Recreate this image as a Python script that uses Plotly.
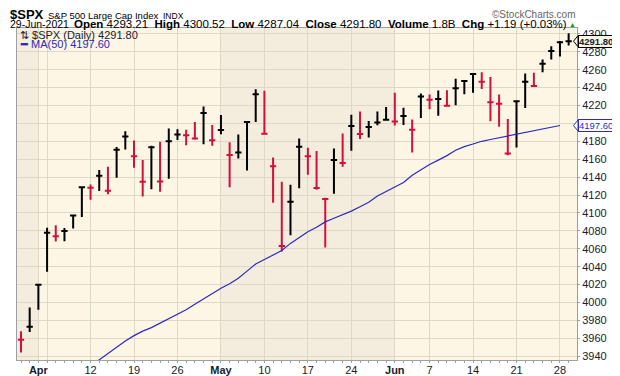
import plotly.graph_objects as go

# ---------------- data ----------------
dates = ["2021-03-30", "2021-03-31", "2021-04-01", "2021-04-05", "2021-04-06", "2021-04-07",
         "2021-04-08", "2021-04-09", "2021-04-12", "2021-04-13", "2021-04-14", "2021-04-15",
         "2021-04-16", "2021-04-19", "2021-04-20", "2021-04-21", "2021-04-22", "2021-04-23",
         "2021-04-26", "2021-04-27", "2021-04-28", "2021-04-29", "2021-04-30", "2021-05-03",
         "2021-05-04", "2021-05-05", "2021-05-06", "2021-05-07", "2021-05-10", "2021-05-11",
         "2021-05-12", "2021-05-13", "2021-05-14", "2021-05-17", "2021-05-18", "2021-05-19",
         "2021-05-20", "2021-05-21", "2021-05-24", "2021-05-25", "2021-05-26", "2021-05-27",
         "2021-05-28", "2021-06-01", "2021-06-02", "2021-06-03", "2021-06-04", "2021-06-07",
         "2021-06-08", "2021-06-09", "2021-06-10", "2021-06-11", "2021-06-14", "2021-06-15",
         "2021-06-16", "2021-06-17", "2021-06-18", "2021-06-21", "2021-06-22", "2021-06-23",
         "2021-06-24", "2021-06-25", "2021-06-28", "2021-06-29"]

highs = [3968.0, 3994.4, 4020.6, 4083.4, 4086.2, 4083.1, 4098.2, 4129.5, 4131.8, 4148.0,
         4151.7, 4173.5, 4191.3, 4180.8, 4159.2, 4175.0, 4179.6, 4194.2, 4193.5, 4192.8,
         4201.5, 4218.8, 4198.1, 4209.4, 4179.0, 4187.7, 4202.7, 4238.0, 4236.4, 4162.0,
         4134.7, 4131.6, 4183.1, 4172.8, 4169.2, 4116.9, 4172.0, 4188.7, 4209.5, 4213.4,
         4202.6, 4213.4, 4218.4, 4234.1, 4217.4, 4204.4, 4233.5, 4232.3, 4236.7, 4237.1,
         4249.7, 4248.4, 4255.6, 4257.2, 4251.9, 4232.3, 4204.8, 4224.8, 4255.8, 4256.6,
         4271.3, 4286.1, 4292.1, 4300.52]

lows = [3944.3, 3967.0, 3992.0, 4034.4, 4068.1, 4068.3, 4082.5, 4095.5, 4114.8, 4124.4,
        4120.8, 4139.4, 4170.8, 4150.5, 4118.4, 4126.4, 4123.7, 4138.2, 4181.5, 4175.5,
        4181.8, 4176.8, 4174.9, 4188.0, 4128.6, 4160.9, 4147.3, 4201.6, 4188.1, 4111.5,
        4056.9, 4075.0, 4127.5, 4142.7, 4126.0, 4061.4, 4121.5, 4151.7, 4169.5, 4182.5,
        4184.1, 4197.8, 4203.6, 4197.6, 4198.3, 4167.6, 4206.0, 4215.7, 4208.4, 4218.7,
        4220.3, 4232.5, 4234.1, 4238.4, 4202.5, 4196.1, 4164.4, 4173.1, 4217.3, 4241.4,
        4257.0, 4271.2, 4274.7, 4287.04]

closes = [3958.55, 3972.89, 4019.87, 4077.91, 4073.94, 4079.95, 4097.17, 4128.80, 4127.99, 4141.59,
          4124.66, 4170.42, 4185.47, 4163.26, 4134.94, 4173.42, 4134.98, 4180.17, 4187.62, 4186.72,
          4183.18, 4211.47, 4181.17, 4192.66, 4164.66, 4167.59, 4201.62, 4232.60, 4188.43, 4152.10,
          4063.04, 4112.50, 4173.85, 4163.29, 4127.83, 4115.68, 4159.12, 4155.86, 4197.05, 4188.13,
          4195.99, 4200.88, 4204.11, 4202.04, 4208.12, 4192.85, 4229.89, 4226.52, 4227.26, 4219.55,
          4239.18, 4247.44, 4255.15, 4246.59, 4223.70, 4221.86, 4166.45, 4224.79, 4246.44, 4241.84,
          4266.49, 4280.70, 4290.61, 4291.80]

prev_close = 3971.09  # close of the session before the first bar

ma_start_date = "2021-04-12"
ma50 = [3929, 3936, 3944, 3951, 3957, 3963, 3968, 3972, 3977, 3982,
        3987, 3992, 3998, 4004, 4010, 4016, 4021, 4027, 4035, 4043,
        4048, 4053, 4058, 4066, 4073, 4079, 4084, 4090, 4094, 4098,
        4102, 4107, 4112, 4119, 4124, 4129, 4134, 4142, 4148, 4154,
        4159, 4164, 4170, 4174, 4177, 4180, 4182, 4184, 4186, 4188,
        4190, 4192, 4194, 4196, 4197.60]

tick_dates = ["2021-04-01", "2021-04-05", "2021-04-12", "2021-04-19", "2021-04-26", "2021-05-03",
              "2021-05-10", "2021-05-17", "2021-05-24", "2021-06-01", "2021-06-07", "2021-06-14",
              "2021-06-21", "2021-06-28"]
tick_labels = ["<b>Apr</b>", "", "12", "19", "26", "<b>May</b>", "10", "17", "24", "<b>Jun</b>",
               "7", "14", "21", "28"]

shaded_periods = [(None, "2021-04-01"), ("2021-05-03", "2021-06-01")]

y_ticks_from, y_step = 3940, 20

# ---------------- styling ----------------
FONT = "Liberation Sans, Arial, sans-serif"
UP_COLOR = "#000000"
DOWN_COLOR = "#d2103c"
MA_COLOR = "#2b2bbd"
BG_LIGHT = "#fdf6e5"
BG_SHADE = "#f4ecdc"
GRID = "#e0d8c6"
AXIS = "#9aa0a6"
TEXT = "#14222e"

# The page places the figure 8px in from the window's corner, so the figure is
# made 8px smaller and everything is laid out in window pixels minus that offset.
OFF = 8
FIG_W, FIG_H = 620 - OFF, 376 - OFF
PL, PT, PW, PH = 17, 28, 560, 332      # plot box in window pixels

idx = {d: i for i, d in enumerate(dates)}
xs = list(range(len(dates)))
x_range = [-0.46, len(dates) - 1 + 0.96]
y_range = [3935.8, 4306.5]
px_per_unit = PH / (y_range[1] - y_range[0])

up_i, dn_i = [], []
for i, c in enumerate(closes):
    p = prev_close if i == 0 else closes[i - 1]
    (up_i if c >= p else dn_i).append(i)

fig = go.Figure()
for group, col in ((up_i, UP_COLOR), (dn_i, DOWN_COLOR)):
    fig.add_trace(go.Ohlc(
        x=[xs[i] for i in group],
        open=[closes[i] for i in group],
        high=[highs[i] for i in group],
        low=[lows[i] for i in group],
        close=[closes[i] for i in group],
        increasing=dict(line=dict(color=col, width=2)),
        decreasing=dict(line=dict(color=col, width=2)),
        tickwidth=0.36, hoverinfo="skip", showlegend=False))

ma_x = xs[idx[ma_start_date]:idx[ma_start_date] + len(ma50)]
fig.add_trace(go.Scatter(x=ma_x, y=ma50, mode="lines",
                         line=dict(color=MA_COLOR, width=1.2),
                         hoverinfo="skip", showlegend=False))

shapes = []
for a, b in shaded_periods:
    x0 = x_range[0] if a is None else idx[a]
    x1 = x_range[1] if b is None else idx[b]
    shapes.append(dict(type="rect", xref="x", yref="paper", x0=x0, x1=x1, y0=0, y1=1,
                       fillcolor=BG_SHADE, line=dict(width=0), layer="below"))


def xp(px):
    return (px - PL) / PW


def yp(py):
    return (PT + PH - py) / PH


def mid(baseline, size):
    # vertical centre of a one-line text box whose baseline sits at `baseline`
    return yp(baseline - 0.3465 * size)


anns = []
# header line 1
anns.append(dict(x=xp(OFF), y=mid(19.5, 13), xref="paper", yref="paper", xanchor="left", yanchor="middle",
                 text="<b>$SPX</b>", showarrow=False, font=dict(family=FONT, size=13, color="#000")))
anns.append(dict(x=xp(46), y=mid(19, 9.5), xref="paper", yref="paper", xanchor="left", yanchor="middle",
                 text="S&amp;P 500 Large Cap Index", showarrow=False,
                 font=dict(family=FONT, size=9.5, color="#000")))
anns.append(dict(x=xp(161), y=mid(19, 8.5), xref="paper", yref="paper", xanchor="left", yanchor="middle",
                 text="INDX", showarrow=False, font=dict(family=FONT, size=8.5, color="#000")))
anns.append(dict(x=xp(578), y=mid(18, 10), xref="paper", yref="paper", xanchor="right", yanchor="middle",
                 text="©StockCharts.com", showarrow=False, font=dict(family=FONT, size=10, color="#666")))
# header line 2
anns.append(dict(x=xp(OFF), y=mid(27.5, 10.5), xref="paper", yref="paper", xanchor="left", yanchor="middle",
                 text="29-Jun-2021", showarrow=False, font=dict(family=FONT, size=10.5, color="#000")))
stats = ("<b>Open</b> 4293.21  <b>High</b> 4300.52  <b>Low</b> 4287.04  <b>Close</b> 4291.80  "
         "<b>Volume</b> 1.8B  <b>Chg</b> +1.19 (+0.03%)")
anns.append(dict(x=xp(569), y=mid(27.5, 11.5), xref="paper", yref="paper", xanchor="right", yanchor="middle",
                 text=stats, showarrow=False, font=dict(family=FONT, size=11.5, color="#000")))
anns.append(dict(x=xp(578), y=mid(26.5, 7), xref="paper", yref="paper", xanchor="right", yanchor="middle",
                 text="▲", showarrow=False, font=dict(family=FONT, size=7, color="#1a9a1a")))
# legend
anns.append(dict(x=xp(18), y=yp(35), xref="paper", yref="paper", xanchor="left", yanchor="middle",
                 text="⇅ $SPX (Daily) %.2f" % closes[-1], showarrow=False,
                 font=dict(family=FONT, size=11, color=TEXT)))
anns.append(dict(x=xp(18), y=yp(44.5), xref="paper", yref="paper", xanchor="left", yanchor="middle",
                 text="<b>━</b> MA(50) %.2f" % ma50[-1], showarrow=False,
                 font=dict(family=FONT, size=11, color=MA_COLOR)))

# last value boxes with a pointer on their left side
for val, txt, bg, border, color in ((closes[-1], "<b>%.2f</b>" % closes[-1], BG_LIGHT, "#000", TEXT),
                                    (ma50[-1], "%.2f" % ma50[-1], "#ffffff", MA_COLOR, MA_COLOR)):
    half = 5.5 / px_per_unit
    tip, base = xp(573.5), xp(578)
    shapes.append(dict(type="path", xref="paper", yref="y", layer="above",
                       path="M %f,%f L %f,%f L %f,%f Z" % (base, val + half, tip, val, base, val - half),
                       fillcolor=bg, line=dict(color=border, width=1)))
    anns.append(dict(x=xp(577.5), y=val, xref="paper", yref="y", xanchor="left", yanchor="middle",
                     text=txt, showarrow=False, bgcolor=bg,
                     bordercolor=border, borderwidth=1, borderpad=0,
                     font=dict(family=FONT, size=9.5, color=color)))

fig.update_layout(
    width=FIG_W, height=FIG_H,
    margin=dict(l=PL - OFF, r=FIG_W - (PL - OFF) - PW, t=PT - OFF, b=FIG_H - (PT - OFF) - PH,
                autoexpand=False),
    paper_bgcolor="white", plot_bgcolor=BG_LIGHT, showlegend=False,
    font=dict(family=FONT, size=11, color=TEXT),
    shapes=shapes, annotations=anns,
)
fig.update_xaxes(
    range=x_range, tickmode="array", tickvals=[idx[d] for d in tick_dates], ticktext=tick_labels,
    showgrid=True, gridcolor=GRID, gridwidth=1, showline=True, linecolor=AXIS, mirror=True,
    ticks="outside", ticklen=2, tickcolor=AXIS, zeroline=False, ticklabelstandoff=-2,
    minor=dict(tick0=0, dtick=1, ticks="outside", ticklen=2, tickcolor=AXIS, showgrid=False),
    rangeslider=dict(visible=False), tickfont=dict(size=11, color=TEXT),
)
fig.update_yaxes(
    side="right", range=y_range, tickmode="linear", tick0=y_ticks_from, dtick=y_step,
    showgrid=True, gridcolor=GRID, gridwidth=1, showline=True, linecolor=AXIS, mirror=True,
    ticks="outside", ticklen=2, tickcolor=AXIS, zeroline=False, tickfont=dict(size=11, color=TEXT),
)

fig.write_html("out.html")
